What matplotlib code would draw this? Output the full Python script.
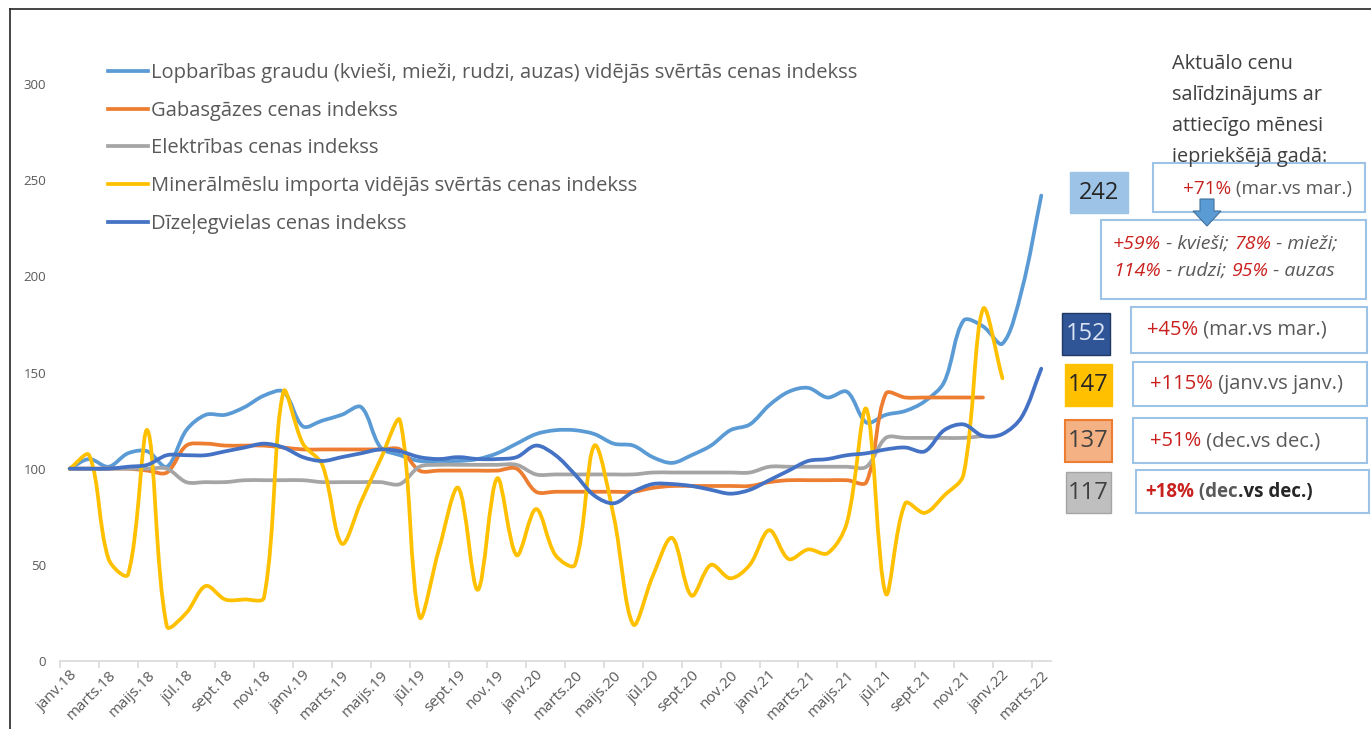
import matplotlib.pyplot as plt
import numpy as np
from matplotlib.path import Path
from matplotlib.patches import PathPatch, Rectangle, Polygon
from matplotlib.lines import Line2D
from matplotlib.text import Annotation

plt.rcParams['font.family'] = ['Open Sans', 'DejaVu Sans']

W, H = 1371, 729

# every second month gets a label, janv.18 .. marts.22 (51 months)
tick_labels = ['janv.18', 'marts.18', 'maijs.18', 'jūl.18', 'sept.18', 'nov.18',
               'janv.19', 'marts.19', 'maijs.19', 'jūl.19', 'sept.19', 'nov.19',
               'janv.20', 'marts.20', 'maijs.20', 'jūl.20', 'sept.20', 'nov.20',
               'janv.21', 'marts.21', 'maijs.21', 'jūl.21', 'sept.21', 'nov.21',
               'janv.22', 'marts.22']

grain = [100, 105, 101, 108, 109, 101, 120, 128, 128, 132, 138, 140, 122, 125, 128, 132, 111, 107,
         104, 104, 104, 105, 108, 113, 118, 120, 120, 118, 113, 112, 106, 103, 107, 112, 120, 123,
         133, 140, 142, 137, 140, 124, 128, 130, 135, 145, 177, 174, 165, 193, 242]
gas = [100, 100, 100, 100, 99, 98, 112, 113, 112, 112, 112, 111, 110, 110, 110, 110, 110, 110,
       99, 99, 99, 99, 99, 100, 88, 88, 88, 88, 88, 88, 90, 91, 91, 91, 91, 91,
       93, 94, 94, 94, 94, 93, 139, 137, 137, 137, 137, 137]
power = [100, 100, 100, 100, 100, 100, 93, 93, 93, 94, 94, 94, 94, 93, 93, 93, 93, 92,
         101, 102, 102, 102, 102, 102, 97, 97, 97, 97, 97, 97, 98, 98, 98, 98, 98, 98,
         101, 101, 101, 101, 101, 101, 116, 116, 116, 116, 116, 117]
fertilizer = [100, 107, 53, 45, 120, 18, 25, 39, 32, 32, 33, 140, 113, 102, 61, 83, 105, 125,
              23, 58, 90, 37, 95, 55, 79, 55, 50, 112, 75, 19, 44, 64, 34, 50, 43, 50,
              68, 53, 58, 56, 72, 131, 35, 82, 77, 86, 97, 183, 147]
diesel = [100, 100, 100, 101, 102, 107, 107, 107, 109, 111, 113, 111, 106, 104, 106, 108, 110, 109,
          106, 105, 106, 105, 105, 106, 112, 107, 97, 86, 82, 88, 92, 92, 91, 89, 87, 89,
          94, 99, 104, 105, 107, 108, 110, 111, 109, 120, 123, 117, 118, 127, 152]

series = [grain, gas, power, fertilizer, diesel]
names = ['Lopbarības graudu (kvieši, mieži, rudzi, auzas) vidējās svērtās cenas indekss',
         'Gabasgāzes cenas indekss',
         'Elektrības cenas indekss',
         'Minerālmēslu importa vidējās svērtās cenas indekss',
         'Dīzeļegvielas cenas indekss']
colors = ['#5b9bd5', '#ed7d31', '#a5a5a5', '#ffc000', '#4472c4']

RED = '#c9211e'
GREY = '#595959'

# pixels per month / per index point, used so the smoothing works in screen space
SX, SY = 19.44, 1.923


def fx(x):
    return x / W


def fy(y):
    return 1 - y / H


def smooth_path(values):
    # bezier through every monthly point, tangent lengths weighted by chord length
    pts = np.column_stack([np.arange(len(values)) * SX, np.asarray(values) * SY]).astype(float)
    n = len(pts)
    c_in = pts.copy()
    c_out = pts.copy()
    for i in range(n):
        if i == 0:
            c_out[i] = pts[i] + (pts[i + 1] - pts[i]) / 3
        elif i == n - 1:
            c_in[i] = pts[i] - (pts[i] - pts[i - 1]) / 3
        else:
            t = pts[i + 1] - pts[i - 1]
            d0 = np.hypot(*(pts[i] - pts[i - 1]))
            d1 = np.hypot(*(pts[i + 1] - pts[i]))
            c_in[i] = pts[i] - t * d0 / (d0 + d1) / 3
            c_out[i] = pts[i] + t * d1 / (d0 + d1) / 3
    verts = [pts[0]]
    codes = [Path.MOVETO]
    for i in range(n - 1):
        verts += [c_out[i], c_in[i + 1], pts[i + 1]]
        codes += [Path.CURVE4] * 3
    verts = np.array(verts) / [SX, SY]
    return Path(verts, codes)


fig = plt.figure(figsize=(W / 100, H / 100), dpi=100)
ax = fig.add_axes([fx(60), fy(661), 991 / W, 577 / H])
ax.patch.set_visible(False)

for values, c in zip(series, colors):
    ax.add_patch(PathPatch(smooth_path(values), fill=False, edgecolor=c, lw=2.7,
                           capstyle='round', joinstyle='round'))

ax.set_xlim(-0.5, 50.5)
ax.set_ylim(0, 300)
for s in ['top', 'right', 'left']:
    ax.spines[s].set_visible(False)
ax.spines['bottom'].set_color('#d9d9d9')
ax.spines['bottom'].set_linewidth(1.2)

ax.set_xticks(np.arange(-0.5, 50, 2))
ax.set_xticklabels([])
ax.set_xticks(np.arange(0, 51, 2), minor=True)
ax.set_xticklabels(tick_labels, minor=True, rotation=45, ha='right', rotation_mode='anchor')
ax.tick_params(axis='x', which='major', length=5, color='#d9d9d9', width=1.2)
ax.tick_params(axis='x', which='minor', length=0, pad=5, labelsize=11, labelcolor=GREY)
ax.set_yticks(range(0, 301, 50))
ax.tick_params(axis='y', length=0, pad=10, labelsize=9.5, labelcolor=GREY)

handles = [Line2D([], [], color=c, lw=2.7) for c in colors]
fig.legend(handles, names, loc='upper left', bbox_to_anchor=(fx(108), fy(63)),
           frameon=False, fontsize=14.5, handlelength=2.0, handletextpad=0.12,
           labelspacing=0.88, borderpad=0, borderaxespad=0, labelcolor=GREY)

# frame around the picture
fig.add_artist(Line2D([fx(10), fx(10)], [fy(9), 0], color='#262626', lw=1.2))
fig.add_artist(Line2D([fx(10), 1], [fy(9), fy(9)], color='#262626', lw=1.2))


def box(x0, y0, x1, y1, face='white', edge='#9dc3e6', lw=1.5):
    fig.add_artist(Rectangle((fx(x0), fy(y1)), (x1 - x0) / W, (y1 - y0) / H,
                             facecolor=face, edgecolor=edge, lw=lw, zorder=2))


def rich(x, y, parts, size=14.5, style='normal'):
    # parts: (text, colour, weight), drawn one after another on the same line
    prev = None
    for s, c, w in parts:
        if prev is None:
            prev = fig.text(fx(x), fy(y), s, color=c, fontsize=size, fontweight=w,
                            fontstyle=style, ha='left', va='center', zorder=5)
        else:
            a = Annotation(s, xy=(1, 0), xycoords=prev, ha='left', va='bottom', color=c,
                           fontsize=size, fontweight=w, fontstyle=style, zorder=5)
            fig.add_artist(a)
            prev = a


# heading of the comparison column
for i, line in enumerate(['Aktuālo cenu', 'salīdzinājums ar', 'attiecīgo mēnesi',
                          'iepriekšējā gadā:']):
    fig.text(fx(1172), fy(64 + 31 * i), line, fontsize=14.3, color='#404040',
             ha='left', va='center')

# grain
box(1070, 172, 1128, 213, face='#9dc3e6', edge='#9dc3e6', lw=1)
fig.text(fx(1099), fy(193), str(grain[-1]), fontsize=17, color='#262626',
         ha='center', va='center', zorder=5)
box(1153, 163, 1365, 212)
rich(1183, 189, [('+71%', RED, 'normal'), (' (mar.vs mar.)', GREY, 'normal')], size=13.6)
box(1101, 220, 1366, 299)
rich(1113, 244, [('+59%', RED, 'normal'), (' - kvieši; ', GREY, 'normal'),
                 ('78%', RED, 'normal'), (' - mieži;', GREY, 'normal')], size=14, style='italic')
rich(1113, 271, [('114%', RED, 'normal'), (' - rudzi; ', GREY, 'normal'),
                 ('95%', RED, 'normal'), (' - auzas', GREY, 'normal')], size=14, style='italic')
arrow = [(1200, 199), (1214, 199), (1214, 211), (1221, 211), (1207, 226), (1193, 211), (1200, 211)]
fig.add_artist(Polygon([(fx(x), fy(y)) for x, y in arrow], closed=True,
                       facecolor='#5b9bd5', edgecolor='#41719c', lw=0.8, zorder=6))

# diesel
box(1062, 313, 1110, 355, face='#2f5597', edge='#203864', lw=1)
fig.text(fx(1086), fy(334), str(diesel[-1]), fontsize=17, color='#dae3f3',
         ha='center', va='center', zorder=5)
box(1131, 307, 1367, 353)
rich(1147, 330, [('+45%', RED, 'normal'), (' (mar.vs mar.)', GREY, 'normal')])

# fertilizer
box(1065, 364, 1112, 406, face='#ffc000', edge='#ffc000', lw=1)
fig.text(fx(1088), fy(385), str(fertilizer[-1]), fontsize=17, color='#262626',
         ha='center', va='center', zorder=5)
box(1133, 362, 1367, 406)
rich(1150, 384, [('+115%', RED, 'normal'), (' (janv.vs janv.)', GREY, 'normal')])

# natural gas
box(1065, 420, 1112, 462, face='#f4b183', edge='#ed7d31', lw=1.5)
fig.text(fx(1088), fy(441), str(gas[-1]), fontsize=17, color='#404040',
         ha='center', va='center', zorder=5)
box(1133, 418, 1367, 463)
rich(1150, 441, [('+51%', RED, 'normal'), (' (dec.vs dec.)', GREY, 'normal')])

# electricity
box(1066, 472, 1111, 513, face='#bfbfbf', edge='#a5a5a5', lw=1)
fig.text(fx(1088), fy(493), str(power[-1]), fontsize=17, color='#404040',
         ha='center', va='center', zorder=5)
box(1136, 470, 1369, 513)
rich(1145, 492, [('+18%', RED, 'bold'), (' (dec', GREY, 'bold'), ('.vs dec.)', '#262626', 'bold')],
     size=13.5)

plt.savefig('out.png', dpi=100)
plt.close('all')
